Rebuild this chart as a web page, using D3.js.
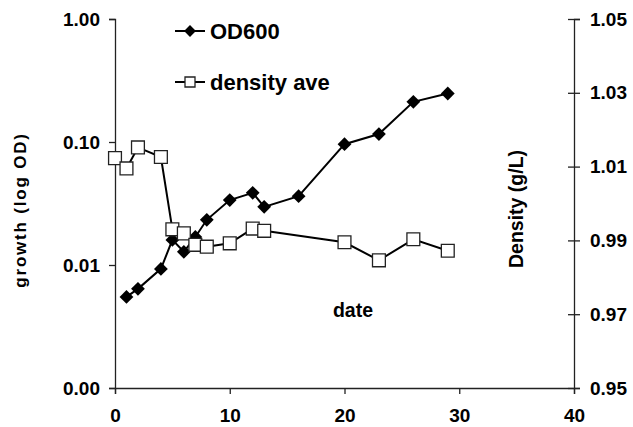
<!DOCTYPE html>
<html>
<head>
<meta charset="utf-8">
<script src="https://cdn.jsdelivr.net/npm/d3@7.9.0/dist/d3.min.js"></script>
<style>
  body { margin: 0; background: #fff; }
  svg { display: block; font-family: "Liberation Sans", Arial, sans-serif; }
</style>
</head>
<body>
<svg id="chart" width="633" height="427"></svg>
<script>
// days of sampling
const odDays = [1, 2, 4, 5, 6, 7, 8, 10, 12, 13, 16, 20, 23, 26, 29];
const od600  = [0.0055, 0.0064, 0.0093, 0.016, 0.0128, 0.0169, 0.0233, 0.0337, 0.0386, 0.0297, 0.0363, 0.096, 0.116, 0.212, 0.248];

const densDays   = [0, 1, 2, 4, 5, 6, 7, 8, 10, 12, 13, 20, 23, 26, 29];
const densityAve = [1.0123, 1.0095, 1.0152, 1.0126, 0.9930, 0.9919, 0.9888, 0.9883, 0.9892, 0.9932, 0.9926, 0.9895, 0.9846, 0.9903, 0.9872];

const xTicks     = [0, 10, 20, 30, 40];
const leftTicks  = [1, 0.1, 0.01, 0.001];
const rightTicks = [0.95, 0.97, 0.99, 1.01, 1.03, 1.05];

const svg = d3.select('#chart');
const mLeft = 115, mRight = 574, mTop = 19, mBottom = 388;

const x  = d3.scaleLinear().domain([0, 40]).range([mLeft, mRight]);
const yL = d3.scaleLog().domain([0.001, 1]).range([mBottom, mTop]);
const yR = d3.scaleLinear().domain([0.95, 1.05]).range([mBottom, mTop]);

// axes
const xAxis = svg.append('g')
  .attr('transform', `translate(0,${mBottom})`)
  .call(d3.axisBottom(x).tickValues(xTicks).tickSize(6).tickPadding(15));
const lAxis = svg.append('g')
  .attr('transform', `translate(${mLeft},0)`)
  .call(d3.axisLeft(yL).tickValues(leftTicks).tickFormat(d3.format('.2f')).tickSize(6).tickPadding(9));
const rAxis = svg.append('g')
  .attr('transform', `translate(${mRight},0)`)
  .call(d3.axisRight(yR).tickValues(rightTicks).tickFormat(d3.format('.2f')).tickSize(6).tickPadding(10));

// right axis ticks cross the line
rAxis.selectAll('.tick line').attr('x1', -6).attr('x2', 6);

[xAxis, lAxis, rAxis].forEach(a => {
  a.select('.domain').attr('stroke', '#222').attr('stroke-width', 1.3);
  a.selectAll('.tick line').attr('stroke', '#222').attr('stroke-width', 1.3);
  a.selectAll('.tick text')
    .attr('fill', '#000')
    .style('font-size', '19px')
    .style('font-weight', 'bold');
});
xAxis.selectAll('.tick text').attr('dy', '0.71em');

// axis titles
svg.append('text')
  .attr('transform', `translate(26,210) rotate(-90)`)
  .attr('text-anchor', 'middle')
  .style('font-size', '17px').style('font-weight', 'bold')
  .style('letter-spacing', '1.8px')
  .text('growth (log OD)');
svg.append('text')
  .attr('transform', `translate(523,209) rotate(-90)`)
  .attr('text-anchor', 'middle')
  .style('font-size', '19.5px').style('font-weight', 'bold')
  .text('Density (g/L)');
svg.append('text')
  .attr('x', 353).attr('y', 317)
  .attr('text-anchor', 'middle')
  .style('font-size', '19.5px').style('font-weight', 'bold')
  .text('date');

// diamonds are squares turned 45 degrees
const diamond = d3.symbol().type(d3.symbolSquare).size(95);
const square  = d3.symbol().type(d3.symbolSquare).size(165);

// OD600 series
const odData = odDays.map((d, i) => ({ x: d, y: od600[i] }));
svg.append('path')
  .datum(odData)
  .attr('fill', 'none').attr('stroke', '#000').attr('stroke-width', 2)
  .attr('d', d3.line().x(d => x(d.x)).y(d => yL(d.y)));
svg.append('g').selectAll('path')
  .data(odData)
  .join('path')
  .attr('transform', d => `translate(${x(d.x)},${yL(d.y)}) rotate(45)`)
  .attr('d', diamond)
  .attr('fill', '#000');

// density series
const dData = densDays.map((d, i) => ({ x: d, y: densityAve[i] }));
svg.append('path')
  .datum(dData)
  .attr('fill', 'none').attr('stroke', '#000').attr('stroke-width', 2)
  .attr('d', d3.line().x(d => x(d.x)).y(d => yR(d.y)));
svg.append('g').selectAll('path')
  .data(dData)
  .join('path')
  .attr('transform', d => `translate(${x(d.x)},${yR(d.y)})`)
  .attr('d', square)
  .attr('fill', '#fff').attr('stroke', '#222').attr('stroke-width', 1.3);

// legend
const legend = [
  { label: 'OD600', sym: d3.symbol().type(d3.symbolSquare).size(70), fill: '#000', rot: 45, y: 31 },
  { label: 'density ave', sym: d3.symbol().type(d3.symbolSquare).size(100), fill: '#fff', rot: 0, y: 82 }
];
const lg = svg.append('g').selectAll('g').data(legend).join('g')
  .attr('transform', d => `translate(175,${d.y})`);
lg.append('line').attr('x1', 0).attr('x2', 30).attr('stroke', '#000').attr('stroke-width', 2);
lg.append('path')
  .attr('transform', d => `translate(15,0) rotate(${d.rot})`)
  .attr('d', d => d.sym())
  .attr('fill', d => d.fill)
  .attr('stroke', d => d.fill === '#fff' ? '#222' : 'none')
  .attr('stroke-width', 1.3);
lg.append('text')
  .attr('x', 35).attr('dy', '0.36em')
  .style('font-size', '22px').style('font-weight', 'bold')
  .text(d => d.label);
</script>
</body>
</html>
